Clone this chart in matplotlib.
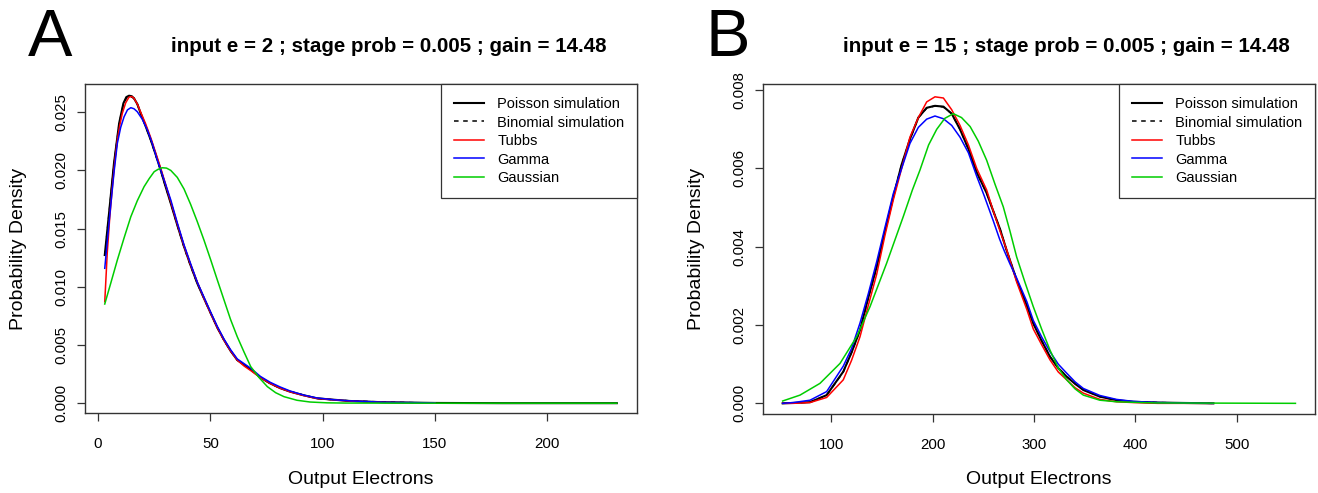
import matplotlib
matplotlib.use('Agg')
import matplotlib.pyplot as plt

plt.rcParams['font.family'] = ['Liberation Sans', 'DejaVu Sans']

# ---- panel A: input e = 2 ----
a_pois_x = [3, 4.9, 7.1, 9.4, 11.3, 12.6, 13.8, 15.0, 16.0, 17.5, 19.0, 21.2, 23.5, 25.7,
            27.9, 30.1, 32.4, 35.3, 38.3, 41.2, 44.2, 47.2, 50.2, 53.1, 56.1, 59.0, 62.0,
            65.0, 68.0, 72.3, 76.6, 81.0, 85.5, 91.5, 97.4, 104.7, 112, 127, 150, 180, 231]
a_pois_y = [0.01273, 0.01631, 0.0206, 0.02405, 0.02577, 0.0263, 0.02642, 0.02638, 0.0262,
            0.0257, 0.0249, 0.0238, 0.02261, 0.02135, 0.02003, 0.0186, 0.01717, 0.0153,
            0.01345, 0.01185, 0.0103, 0.0090, 0.00772, 0.0065, 0.00543, 0.0045, 0.00371,
            0.0033, 0.0029, 0.0022, 0.00171, 0.0013, 0.00099, 0.00068, 0.00042, 0.0003,
            0.00019, 0.00008, 0.00002, 0.0, 0.0]
a_binom_x = [3, 4.9, 7.1, 9.4, 11.3, 12.6, 13.8, 15.0, 16.0, 17.5, 19.0, 21.2, 23.5, 25.7,
             27.9, 30.1, 32.4, 35.3, 38.3, 41.2, 44.2, 47.2, 50.2, 53.1, 56.1, 59.0, 62.0,
             65.0, 68.0, 72.3, 76.6, 81.0, 85.5, 91.5, 97.4, 104.7, 112, 127, 150]
a_binom_y = [0.0127, 0.0163, 0.0205, 0.0240, 0.0257, 0.0262, 0.0264, 0.0263, 0.0262,
             0.0257, 0.0249, 0.0238, 0.0226, 0.0213, 0.0200, 0.0186, 0.0172, 0.0153,
             0.0134, 0.0118, 0.0103, 0.0090, 0.0077, 0.0065, 0.0054, 0.0045, 0.0037,
             0.0033, 0.0029, 0.0022, 0.0017, 0.0013, 0.0010, 0.0007, 0.0004, 0.0003,
             0.0002, 0.0001, 0.0]
a_tubbs_x = [3, 4.1, 5.2, 6.4, 7.5, 8.6, 9.7, 10.8, 12.3, 13.8, 15.0, 16.0, 17.5, 19.0,
             21.2, 23.5, 25.7, 27.9, 30.1, 32.4, 35.3, 38.3, 41.2, 44.2, 47.2, 50.2, 53.1,
             56.1, 59.0, 62.0, 65.0, 68.0, 72.3, 76.6, 81.0, 85.5, 91.5, 97.4, 112, 127, 150]
a_tubbs_y = [0.00872, 0.01288, 0.0159, 0.0186, 0.0208, 0.0226, 0.0239, 0.0249, 0.0258,
             0.0263, 0.02635, 0.0262, 0.0257, 0.0250, 0.0240, 0.0228, 0.0215, 0.0202,
             0.0188, 0.0173, 0.0154, 0.0135, 0.0119, 0.0104, 0.0090, 0.0077, 0.0065,
             0.0054, 0.0045, 0.0037, 0.0032, 0.0028, 0.0022, 0.0017, 0.0013, 0.00098,
             0.00066, 0.00041, 0.00018, 0.00007, 0.00001]
a_gamma_x = [3, 4.3, 5.6, 7.1, 8.6, 10.1, 11.6, 13.1, 14.6, 16.0, 17.5, 19.7, 22.0, 24.2,
             26.4, 29.4, 32.4, 35.3, 38.3, 41.2, 44.2, 47.2, 50.2, 53.1, 56.1, 59.0, 62.0,
             65.0, 68.0, 72.3, 76.6, 81.0, 85.5, 91.5, 97.4, 104.7, 112, 127, 150]
a_gamma_y = [0.01159, 0.0143, 0.01688, 0.0198, 0.02233, 0.0237, 0.02461, 0.0252, 0.02539,
             0.0253, 0.02504, 0.0244, 0.02347, 0.0223, 0.02089, 0.0192, 0.01746, 0.0155,
             0.0136, 0.0120, 0.0104, 0.0091, 0.0078, 0.0066, 0.0055, 0.0046, 0.0038,
             0.0034, 0.0030, 0.0023, 0.0018, 0.0014, 0.00105, 0.0007, 0.00045, 0.0003,
             0.0002, 0.00008, 0.00002]
a_gauss_x = [3, 5.8, 8.6, 11.6, 14.6, 17.5, 20.5, 22.8, 25.0, 26.8, 28.6, 30.5, 32.4, 35.3,
             38.3, 41.2, 44.2, 47.2, 50.2, 53.1, 56.1, 59.0, 62.0, 65.0, 68.0, 71.7, 75.4,
             79.1, 82.8, 88.6, 94.4, 102, 110, 150, 231]
a_gauss_y = [0.00852, 0.0104, 0.0123, 0.0142, 0.01602, 0.0174, 0.0186, 0.0193, 0.01989,
             0.0201, 0.02023, 0.0202, 0.0200, 0.0194, 0.0184, 0.0171, 0.0156, 0.0140,
             0.0123, 0.0106, 0.00887, 0.0072, 0.00571, 0.0044, 0.00314, 0.0022, 0.00142,
             0.0009, 0.00056, 0.00025, 0.0001, 0.00003, 0.00001, 0.0, 0.0]

# ---- panel B: input e = 15 ----
b_pois_x = [52, 62.5, 79, 95.4, 111.8, 120, 128.3, 136.5, 144.8, 153, 161.2, 169.4, 177.6,
            185.9, 194.1, 202.3, 210.6, 218.8, 227, 235.3, 243.5, 253.3, 260, 266.5, 273.1,
            282.9, 292.9, 299.3, 307.5, 315.8, 324, 332.3, 340.5, 348.7, 365.1, 381.6, 398,
            422, 447, 477]
b_pois_y = [0.0, 0.00001, 0.00003, 0.00021, 0.00081, 0.0013, 0.00187, 0.0027, 0.00349,
            0.0044, 0.00528, 0.0061, 0.00675, 0.0073, 0.00755, 0.0076, 0.00758, 0.0074,
            0.0070, 0.0065, 0.0059, 0.00537, 0.0049, 0.00445, 0.0039, 0.00315, 0.0025,
            0.00204, 0.0016, 0.00119, 0.0009, 0.00068, 0.0005, 0.00034, 0.00017, 0.00008,
            0.00004, 0.00002, 0.00001, 0.0]
b_binom_x = b_pois_x
b_binom_y = [0.0, 0.00001, 0.00003, 0.00021, 0.0008, 0.0013, 0.00186, 0.0027, 0.00348,
             0.0044, 0.00528, 0.0061, 0.00674, 0.0073, 0.00754, 0.0076, 0.00757, 0.0074,
             0.0070, 0.0065, 0.0059, 0.00537, 0.0049, 0.00445, 0.0039, 0.00316, 0.0025,
             0.00205, 0.0016, 0.0012, 0.0009, 0.00069, 0.0005, 0.00035, 0.00017, 0.00008,
             0.00004, 0.00002, 0.00001, 0.0]
b_tubbs_x = [52, 62.5, 79, 95.4, 111.8, 120, 128.3, 136.5, 144.8, 153, 161.2, 169.4, 177.6,
             185.9, 194.1, 202.3, 210.6, 218.8, 227, 235.3, 243.5, 253.3, 260, 266.5, 273.1,
             282.9, 292.9, 299.3, 307.5, 315.8, 324, 332.3, 340.5, 348.7, 365.1, 381.6, 398,
             422, 447, 477]
b_tubbs_y = [0.0, 0.0, 0.00002, 0.00015, 0.0006, 0.0011, 0.0017, 0.0025, 0.0033, 0.0043,
             0.0052, 0.0060, 0.0068, 0.0073, 0.0077, 0.00783, 0.0078, 0.0075, 0.0071,
             0.0066, 0.0060, 0.00545, 0.0049, 0.0044, 0.00392, 0.0031, 0.0024, 0.0019,
             0.0015, 0.00111, 0.0008, 0.0006, 0.0004, 0.00026, 0.0001, 0.00004, 0.00002,
             0.0, 0.0, 0.0]
b_gamma_x = [52, 62.5, 79, 95.4, 111.8, 120, 128.3, 136.5, 144.8, 153, 161.2, 169.4, 177.6,
             185.9, 194.1, 202.3, 210.6, 218.8, 227, 235.3, 243.5, 250.9, 260, 266, 270.6,
             276.5, 282.9, 292.9, 299.3, 307.5, 315.8, 324, 332.3, 340.5, 348.7, 365.1, 381.6,
             398, 422, 447, 477]
b_gamma_y = [0.0, 0.00002, 0.00008, 0.0003, 0.00095, 0.0014, 0.00205, 0.0028, 0.00362,
             0.0045, 0.00536, 0.0060, 0.00664, 0.00705, 0.00726, 0.00734, 0.00727, 0.0071,
             0.0068, 0.0064, 0.0058, 0.0053, 0.00465, 0.0042, 0.0039, 0.00355, 0.0032,
             0.0026, 0.00212, 0.0017, 0.00132, 0.001, 0.00077, 0.00055, 0.00038, 0.0002,
             0.0001, 0.00005, 0.00002, 0.00001, 0.0]
b_gauss_x = [52, 69.1, 88.8, 108.6, 125, 138.2, 154.6, 171, 180, 187.5, 196, 204, 212,
             220.4, 228.5, 237, 245, 253.3, 261.5, 269.7, 276.3, 282.9, 291, 299.3, 307.5,
             315.8, 324, 332.3, 340.5, 348.7, 365, 381.6, 420, 558]
b_gauss_y = [0.00006, 0.00021, 0.00051, 0.00102, 0.0017, 0.00247, 0.00358, 0.00477,
             0.00545, 0.00596, 0.0066, 0.0070, 0.00728, 0.0074, 0.0073, 0.00707, 0.0067,
             0.00621, 0.0056, 0.00502, 0.0044, 0.00374, 0.0031, 0.00247, 0.0019, 0.00136,
             0.0009, 0.0006, 0.00037, 0.00021, 0.00008, 0.00004, 0.00001, 0.0]

labels = ['Poisson simulation', 'Binomial simulation', 'Tubbs', 'Gamma', 'Gaussian']
titles = ['input e = 2 ; stage prob = 0.005 ; gain = 14.48',
          'input e = 15 ; stage prob = 0.005 ; gain = 14.48']
RED, BLUE, GREEN = '#ff0000', '#0000ff', '#00cd00'

W, H = 1318, 493
fig = plt.figure(figsize=(W / 100, H / 100), dpi=100)


def px_axes(left, top, right, bottom):
    return fig.add_axes([left / W, 1 - bottom / H, (right - left) / W, (bottom - top) / H])


axA = px_axes(85, 84.3, 637, 413.3)
axB = px_axes(762.7, 84.3, 1315, 414.3)

panels = [
    (axA, (a_pois_x, a_pois_y), (a_binom_x, a_binom_y), (a_tubbs_x, a_tubbs_y),
     (a_gamma_x, a_gamma_y), (a_gauss_x, a_gauss_y)),
    (axB, (b_pois_x, b_pois_y), (b_binom_x, b_binom_y), (b_tubbs_x, b_tubbs_y),
     (b_gamma_x, b_gamma_y), (b_gauss_x, b_gauss_y)),
]

for ax, pois, binom, tubbs, gamma, gauss in panels:
    ax.plot(*pois, color='black', lw=1.5, label=labels[0])
    ax.plot(*binom, color='black', lw=1.1, dashes=(3, 3), label=labels[1])
    ax.plot(*tubbs, color=RED, lw=1.1, label=labels[2])
    ax.plot(*gamma, color=BLUE, lw=1.1, label=labels[3])
    ax.plot(*gauss, color=GREEN, lw=1.1, label=labels[4])
    for s in ax.spines.values():
        s.set_color('#333333')
        s.set_linewidth(1.0)
    ax.tick_params(direction='out', length=5.8, width=0.9, color='#333333',
                   labelsize=10.8)
    ax.tick_params(axis='x', pad=11)
    ax.tick_params(axis='y', pad=6, labelrotation=90)
    leg = ax.legend(loc='upper right', borderaxespad=0, fancybox=False, framealpha=1,
                    edgecolor='#333333', fontsize=10.5, handlelength=2.05,
                    handletextpad=0.9, labelspacing=0.31, borderpad=0.87)
    leg.get_frame().set_linewidth(0.9)

axA.set_xlim(-5.8, 240)
axA.set_ylim(-0.00087, 0.0274)
axA.set_xticks([0, 50, 100, 150, 200])
axA.set_yticks([0, 0.005, 0.01, 0.015, 0.02, 0.025])
axA.set_yticklabels(['0.000', '0.005', '0.010', '0.015', '0.020', '0.025'], va='center')

axB.set_xlim(32.3, 577.3)
axB.set_ylim(-0.00028, 0.00815)
axB.set_xticks([100, 200, 300, 400, 500])
axB.set_yticks([0, 0.002, 0.004, 0.006, 0.008])
axB.set_yticklabels(['0.000', '0.002', '0.004', '0.006', '0.008'], va='center')

# titles, axis labels and panel letters
for off, title, letter in [(0, titles[0], 'A'), (677.7, titles[1], 'B')]:
    fig.text((389 + off) / W, 1 - 47 / H, title, ha='center', va='center',
             fontsize=14.8, fontweight='bold')
    fig.text((361 + off) / W, 1 - 479 / H, 'Output Electrons', ha='center', va='center',
             fontsize=14)
    fig.text((19 + off) / W, 1 - 249 / H, 'Probability Density', ha='center', va='center',
             rotation=90, fontsize=14)
    fig.text((50 + off) / W, 1 - 39 / H, letter, ha='center', va='center', fontsize=48)

fig.savefig('out.png', dpi=100)
